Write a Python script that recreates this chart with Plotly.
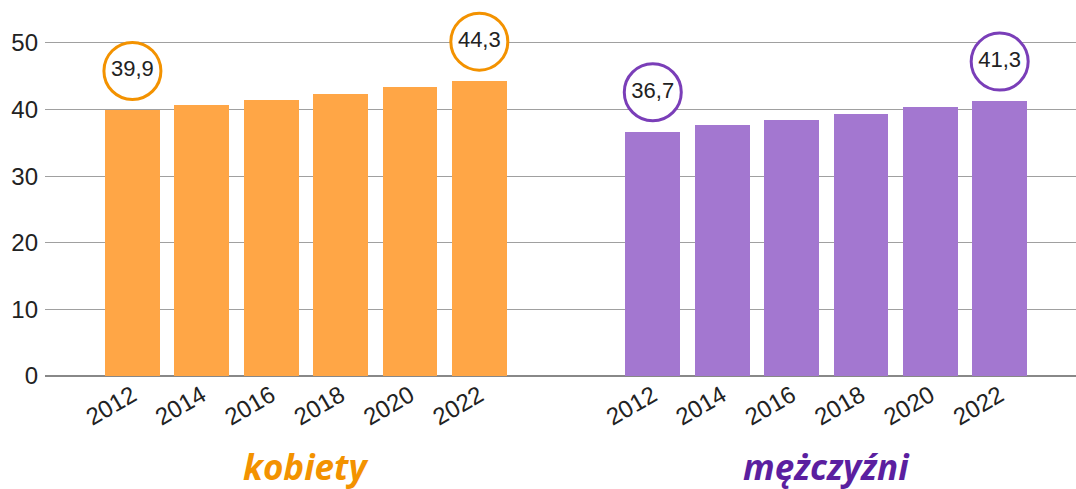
import plotly.graph_objects as go

years = ["2012", "2014", "2016", "2018", "2020", "2022"]
women = [39.9, 40.7, 41.4, 42.3, 43.4, 44.3]
men = [36.7, 37.7, 38.4, 39.3, 40.4, 41.3]
women_x = [0, 1, 2, 3, 4, 5]
men_x = [7.5, 8.5, 9.5, 10.5, 11.5, 12.5]
y_ticks = [0, 10, 20, 30, 40, 50]

W_BAR = "#FFA646"
W_LINE = "#F39200"
M_BAR = "#A377D0"
M_LINE = "#7A3EB8"
M_TEXT = "#5B1FA0"

fig = go.Figure()
fig.add_trace(go.Bar(x=women_x, y=women, marker=dict(color=W_BAR, line=dict(width=0)),
                     width=0.79, showlegend=False))
fig.add_trace(go.Bar(x=men_x, y=men, marker=dict(color=M_BAR, line=dict(width=0)),
                     width=0.79, showlegend=False))

def fmt(v):
    return f"{v:.1f}".replace(".", ",")

offset = 5.9
for xs, vals, col in [(women_x, women, W_LINE), (men_x, men, M_LINE)]:
    idx = [0, len(vals) - 1]
    fig.add_trace(go.Scatter(
        x=[xs[i] for i in idx],
        y=[vals[i] + offset for i in idx],
        mode="markers+text",
        text=[fmt(vals[i]) for i in idx],
        textposition="middle center",
        textfont=dict(family="Liberation Sans, Arial", size=22, color="#222222"),
        marker=dict(symbol="circle", size=57, color="white", line=dict(color=col, width=3)),
        cliponaxis=False,
        showlegend=False,
        hoverinfo="skip",
    ))

fig.add_annotation(x=2.5, y=0, xref="x", yref="paper", yshift=-116, text="<b><i>kobiety</i></b>",
                   showarrow=False, font=dict(family="Open Sans", size=35, color=W_LINE))
fig.add_annotation(x=10.0, y=0, xref="x", yref="paper", yshift=-116, text="<b><i>mężczyźni</i></b>",
                   showarrow=False, font=dict(family="Open Sans", size=35, color=M_TEXT))

y_top = 56.0
px_per_unit = 333 / 50
top_margin = 43 - (y_top - 50) * px_per_unit

fig.update_layout(
    width=1076, height=489,
    margin=dict(l=45, r=0, t=top_margin, b=113, autoexpand=False),
    plot_bgcolor="white", paper_bgcolor="white",
    bargap=0,
    xaxis=dict(
        range=[-1.26, 13.6],
        tickvals=women_x + men_x,
        ticktext=years + years,
        tickangle=-30,
        tickfont=dict(family="Liberation Sans, Arial", size=24, color="#222222"),
        showgrid=False, zeroline=False, showline=False, ticks="",
        automargin=False,
    ),
    yaxis=dict(
        range=[0, y_top],
        tickvals=y_ticks,
        tickfont=dict(family="Liberation Sans, Arial", size=24, color="#222222"),
        showgrid=True, gridcolor="#A0A0A0", gridwidth=1,
        zeroline=True, zerolinecolor="#888888", zerolinewidth=2,
        ticks="", ticklabelstandoff=6,
        automargin=False,
    ),
)

fig.write_html("out.html", config={"displayModeBar": False},
               post_script="document.body.style.margin='0';document.body.style.overflow='hidden';")
